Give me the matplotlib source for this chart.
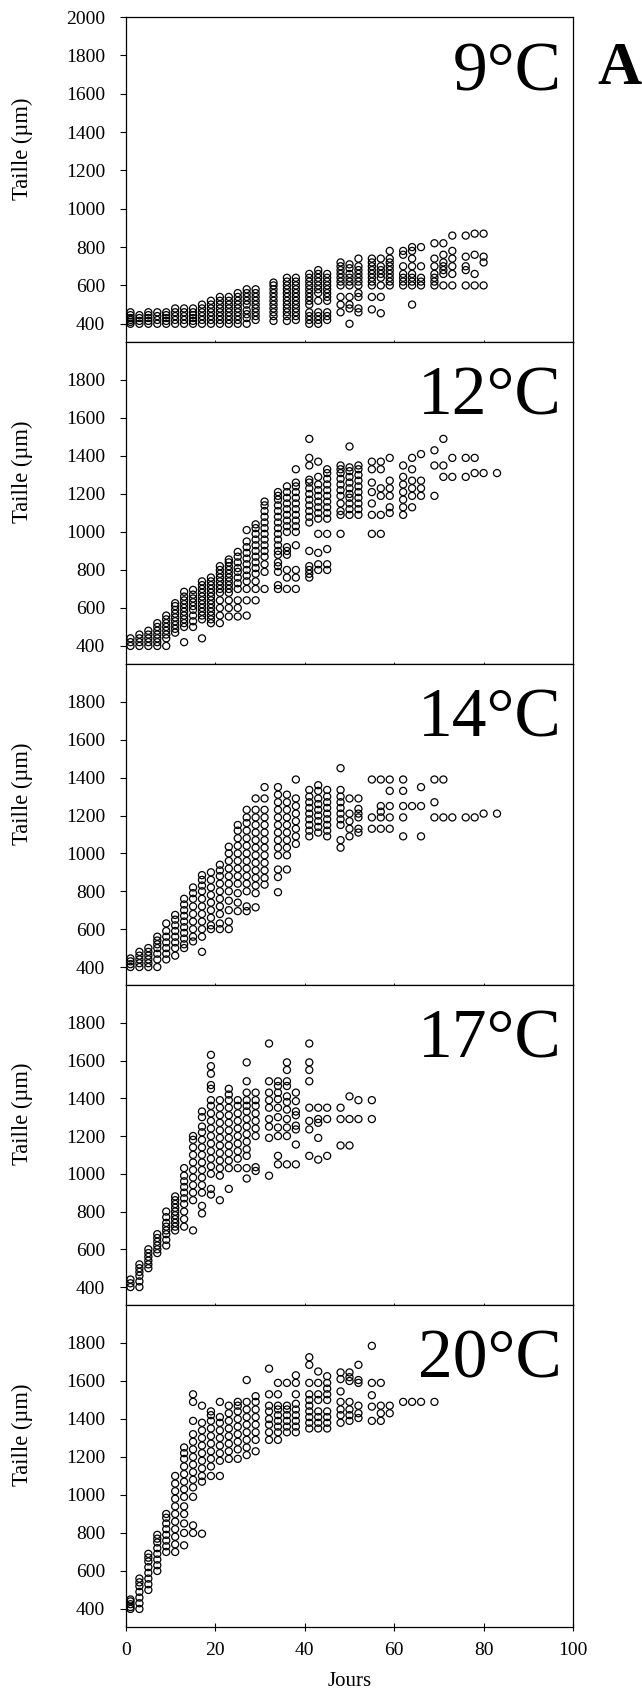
import matplotlib
matplotlib.use("Agg")
import matplotlib.pyplot as plt

# Taille des larves (µm) selon les jours, pour chaque temperature
days_9 = [1, 3, 5, 7, 9, 11, 13, 15, 17, 19, 21, 23, 25, 27, 29, 33, 36, 38, 41, 43, 45,
          48, 50, 52, 55, 57, 59, 62, 64, 66, 69, 71, 73, 76, 78, 80]
sizes_9 = [
    [400, 410, 420, 430, 445, 460],
    [400, 415, 430, 445],
    [400, 415, 430, 445, 460],
    [400, 420, 440, 460],
    [400, 415, 430, 445, 460],
    [400, 420, 440, 460, 480],
    [400, 420, 440, 460, 480],
    [400, 415, 430, 445, 460, 480],
    [400, 420, 440, 460, 480, 500],
    [400, 420, 440, 460, 480, 500, 520],
    [400, 420, 440, 460, 480, 500, 520, 540],
    [400, 420, 440, 460, 480, 500, 520, 540],
    [400, 420, 440, 460, 480, 500, 520, 540, 560],
    [400, 430, 450, 470, 500, 520, 540, 560, 580],
    [420, 440, 460, 480, 500, 520, 540, 560, 580],
    [415, 440, 460, 480, 500, 520, 540, 560, 580, 600, 615],
    [415, 440, 460, 480, 500, 520, 540, 560, 580, 600, 620, 640],
    [420, 440, 460, 480, 500, 520, 540, 560, 580, 600, 620, 640],
    [400, 420, 440, 460, 500, 520, 540, 560, 580, 600, 620, 640, 660],
    [400, 420, 440, 460, 520, 560, 580, 600, 620, 640, 660, 680],
    [420, 440, 460, 520, 540, 560, 580, 600, 620, 640, 660],
    [460, 500, 540, 600, 620, 640, 660, 680, 700, 720],
    [400, 480, 500, 540, 600, 620, 640, 660, 690, 710],
    [460, 480, 540, 560, 600, 620, 640, 660, 680, 700, 740],
    [475, 540, 600, 620, 640, 660, 680, 700, 720, 740],
    [455, 540, 600, 640, 660, 680, 700, 740],
    [600, 620, 640, 660, 680, 700, 720, 740, 780],
    [600, 620, 640, 660, 700, 760, 780],
    [500, 600, 620, 640, 660, 700, 740, 780, 800],
    [600, 620, 640, 700, 800],
    [600, 620, 640, 660, 700, 740, 820],
    [600, 660, 680, 700, 720, 760, 820],
    [600, 660, 700, 740, 780, 860],
    [600, 680, 700, 750, 860],
    [600, 660, 760, 870],
    [600, 720, 750, 870],
]

days_12 = [1, 3, 5, 7, 9, 11, 13, 15, 17, 19, 21, 23, 25, 27, 29, 31, 34, 36, 38, 41, 43, 45,
           48, 50, 52, 55, 57, 59, 62, 64, 66, 69, 71, 73, 76, 78, 80, 83]
sizes_12 = [
    [400, 420, 440],
    [400, 420, 440, 460],
    [400, 420, 440, 460, 480],
    [400, 420, 440, 460, 480, 500, 520],
    [400, 440, 460, 480, 500, 520, 540, 560],
    [470, 490, 510, 530, 550, 570, 590, 610, 625],
    [420, 500, 520, 540, 560, 580, 600, 620, 640, 660, 685],
    [500, 530, 560, 590, 610, 630, 650, 670, 695],
    [440, 540, 560, 580, 600, 620, 640, 660, 680, 700, 720, 740],
    [520, 540, 560, 580, 600, 620, 640, 660, 680, 700, 720, 740, 760],
    [520, 560, 600, 640, 680, 700, 720, 740, 760, 780, 800, 820],
    [555, 600, 640, 680, 700, 720, 740, 760, 780, 800, 820, 840, 855],
    [555, 600, 640, 700, 730, 760, 790, 810, 840, 870, 895],
    [560, 640, 700, 740, 770, 800, 830, 860, 890, 920, 950, 1010],
    [640, 700, 740, 780, 810, 840, 870, 900, 930, 960, 990, 1020, 1040],
    [700, 790, 830, 870, 900, 930, 960, 990, 1020, 1050, 1080, 1110, 1140, 1160],
    [700, 720, 790, 820, 840, 880, 900, 930, 960, 990, 1020, 1050, 1080, 1110, 1140, 1170, 1190, 1210],
    [700, 760, 800, 880, 900, 920, 1000, 1030, 1060, 1090, 1120, 1150, 1180, 1210, 1240],
    [700, 760, 800, 930, 1000, 1030, 1060, 1090, 1120, 1150, 1180, 1210, 1240, 1260, 1330],
    [760, 780, 800, 820, 900, 1050, 1080, 1110, 1140, 1170, 1200, 1230, 1260, 1275, 1350, 1390, 1490],
    [800, 830, 890, 990, 1070, 1100, 1130, 1160, 1190, 1220, 1250, 1290, 1370],
    [800, 830, 910, 990, 1070, 1100, 1130, 1160, 1190, 1220, 1250, 1280, 1310, 1330],
    [990, 1090, 1110, 1150, 1190, 1220, 1250, 1280, 1310, 1330, 1350],
    [1090, 1120, 1150, 1180, 1200, 1230, 1260, 1290, 1320, 1340, 1450],
    [1090, 1120, 1150, 1180, 1210, 1240, 1270, 1300, 1330, 1350],
    [990, 1090, 1150, 1210, 1260, 1330, 1370],
    [990, 1090, 1190, 1230, 1330, 1370],
    [1100, 1130, 1190, 1230, 1270, 1390],
    [1090, 1130, 1170, 1210, 1250, 1290, 1350],
    [1130, 1190, 1230, 1270, 1330, 1390],
    [1190, 1230, 1270, 1410],
    [1190, 1350, 1430],
    [1290, 1350, 1490],
    [1290, 1390],
    [1290, 1390],
    [1310, 1390],
    [1310],
    [1310],
]

days_14 = [1, 3, 5, 7, 9, 11, 13, 15, 17, 19, 21, 23, 25, 27, 29, 31, 34, 36, 38, 41, 43, 45,
           48, 50, 52, 55, 57, 59, 62, 64, 66, 69, 71, 73, 76, 78, 80, 83]
sizes_14 = [
    [400, 415, 430, 445],
    [400, 420, 440, 460, 480],
    [400, 420, 440, 460, 480, 500],
    [400, 440, 470, 500, 520, 540, 560],
    [440, 470, 500, 530, 560, 590, 630],
    [460, 500, 530, 560, 590, 620, 650, 675],
    [500, 520, 550, 580, 610, 640, 670, 700, 730, 760],
    [535, 560, 600, 640, 680, 720, 760, 790, 820],
    [480, 560, 600, 640, 680, 720, 760, 800, 830, 860, 885],
    [600, 620, 660, 700, 740, 780, 820, 860, 900],
    [600, 630, 680, 720, 760, 800, 840, 880, 910, 940],
    [600, 640, 700, 750, 800, 840, 880, 920, 960, 1000, 1035],
    [695, 740, 790, 840, 880, 920, 960, 1000, 1040, 1080, 1120, 1150],
    [695, 720, 800, 840, 880, 920, 960, 1000, 1040, 1080, 1120, 1160, 1190, 1230],
    [715, 790, 830, 870, 910, 950, 990, 1030, 1070, 1110, 1150, 1190, 1230, 1290],
    [835, 870, 910, 950, 990, 1030, 1070, 1110, 1150, 1190, 1230, 1290, 1350],
    [795, 875, 915, 990, 1030, 1070, 1110, 1150, 1190, 1230, 1270, 1310, 1350],
    [915, 990, 1030, 1070, 1110, 1150, 1190, 1230, 1270, 1310],
    [1050, 1090, 1130, 1170, 1210, 1250, 1290, 1390],
    [1090, 1120, 1150, 1180, 1210, 1240, 1270, 1300, 1335],
    [1110, 1140, 1170, 1200, 1230, 1260, 1290, 1330, 1360],
    [1090, 1120, 1150, 1180, 1210, 1240, 1270, 1300, 1335],
    [1030, 1070, 1150, 1180, 1210, 1240, 1270, 1300, 1335, 1450],
    [1090, 1130, 1170, 1210, 1290],
    [1110, 1130, 1190, 1210, 1235, 1290],
    [1130, 1190, 1390],
    [1130, 1190, 1220, 1250, 1390],
    [1130, 1190, 1250, 1330, 1390],
    [1090, 1190, 1250, 1330, 1390],
    [1250],
    [1090, 1250, 1350],
    [1190, 1270, 1390],
    [1190, 1390],
    [1190],
    [1190],
    [1190],
    [1210],
    [1210],
]

days_17 = [1, 3, 5, 7, 9, 11, 13, 15, 17, 19, 21, 23, 25, 27, 29, 32, 34, 36, 38, 41, 43, 45,
           48, 50, 52, 55]
sizes_17 = [
    [400, 420, 440],
    [400, 430, 460, 480, 500, 520],
    [500, 520, 540, 560, 580, 600],
    [580, 600, 620, 640, 660, 680],
    [620, 650, 680, 700, 720, 740, 770, 800],
    [700, 720, 740, 760, 780, 800, 820, 840, 860, 880],
    [720, 760, 800, 840, 870, 900, 930, 960, 990, 1030],
    [700, 860, 900, 940, 980, 1020, 1060, 1100, 1140, 1180, 1200],
    [790, 830, 900, 940, 980, 1020, 1060, 1100, 1140, 1180, 1220, 1250, 1300, 1330],
    [890, 920, 1000, 1040, 1080, 1120, 1160, 1200, 1240, 1280, 1320, 1360, 1390, 1450, 1470, 1530, 1570, 1630],
    [860, 990, 1030, 1070, 1110, 1150, 1190, 1230, 1270, 1310, 1350, 1390],
    [920, 1030, 1070, 1110, 1150, 1190, 1230, 1270, 1310, 1350, 1390, 1420, 1450],
    [1030, 1080, 1120, 1160, 1200, 1240, 1280, 1320, 1360, 1390],
    [975, 1030, 1095, 1130, 1170, 1210, 1250, 1290, 1330, 1360, 1390, 1430, 1490, 1590],
    [1015, 1035, 1200, 1240, 1280, 1320, 1360, 1390, 1430],
    [990, 1190, 1250, 1290, 1350, 1390, 1430, 1490, 1690],
    [1050, 1095, 1200, 1245, 1300, 1350, 1395, 1430, 1465, 1490],
    [1050, 1200, 1245, 1290, 1340, 1380, 1410, 1465, 1490, 1550, 1590],
    [1050, 1155, 1235, 1255, 1310, 1330, 1385, 1430],
    [1095, 1235, 1280, 1350, 1490, 1550, 1590, 1690],
    [1075, 1190, 1270, 1290, 1350],
    [1095, 1290, 1350],
    [1150, 1290, 1350],
    [1150, 1290, 1410],
    [1290, 1390],
    [1290, 1390],
]

days_20 = [1, 3, 5, 7, 9, 11, 13, 15, 17, 19, 21, 23, 25, 27, 29, 32, 34, 36, 38, 41, 43, 45,
           48, 50, 52, 55, 57, 59, 62, 64, 66, 69]
sizes_20 = [
    [400, 410, 425, 440, 450],
    [400, 430, 460, 490, 520, 540, 560],
    [500, 530, 560, 590, 620, 650, 670, 690],
    [600, 630, 660, 690, 720, 750, 770, 790],
    [700, 730, 760, 790, 820, 850, 880, 900],
    [700, 740, 780, 820, 860, 900, 940, 980, 1020, 1060, 1100],
    [735, 800, 850, 900, 940, 990, 1030, 1070, 1110, 1150, 1190, 1220, 1250],
    [800, 840, 990, 1040, 1080, 1120, 1160, 1200, 1240, 1280, 1320, 1390, 1490, 1530],
    [796, 1070, 1100, 1140, 1180, 1220, 1260, 1300, 1340, 1380, 1470],
    [1100, 1150, 1190, 1230, 1270, 1310, 1350, 1390, 1420, 1440],
    [1100, 1180, 1220, 1260, 1300, 1340, 1380, 1410, 1490],
    [1190, 1230, 1270, 1310, 1350, 1390, 1430, 1470],
    [1190, 1240, 1280, 1320, 1360, 1400, 1440, 1470, 1490],
    [1210, 1250, 1290, 1330, 1370, 1410, 1450, 1490, 1605],
    [1230, 1290, 1330, 1370, 1410, 1450, 1490, 1520],
    [1290, 1330, 1370, 1400, 1440, 1470, 1530, 1665],
    [1290, 1330, 1360, 1390, 1420, 1450, 1470, 1530, 1590],
    [1330, 1360, 1390, 1420, 1450, 1470, 1590],
    [1330, 1360, 1390, 1420, 1450, 1480, 1530, 1590, 1630],
    [1350, 1380, 1410, 1440, 1470, 1500, 1530, 1590, 1685, 1725],
    [1350, 1380, 1410, 1440, 1500, 1530, 1590, 1650],
    [1350, 1380, 1410, 1440, 1500, 1530, 1560, 1590, 1625],
    [1380, 1420, 1450, 1490, 1545, 1610, 1645],
    [1390, 1420, 1450, 1490, 1600, 1620, 1645],
    [1405, 1430, 1470, 1590, 1605, 1685],
    [1390, 1465, 1525, 1590, 1785],
    [1390, 1430, 1470, 1590],
    [1430, 1470],
    [1490],
    [1490],
    [1490],
    [1490],
]

temps = ["9°C", "12°C", "14°C", "17°C", "20°C"]
all_days = [days_9, days_12, days_14, days_17, days_20]
all_sizes = [sizes_9, sizes_12, sizes_14, sizes_17, sizes_20]

plt.rcParams['font.family'] = ['Liberation Serif', 'DejaVu Serif']

W, H = 642, 1692
fig = plt.figure(figsize=(W / 100, H / 100), dpi=100)

# bords des panneaux (pixels depuis le haut)
edges = [17, 342, 664, 985, 1305, 1627]
left, right = 126, 573

for i in range(5):
    top, bot = edges[i], edges[i + 1]
    ax = fig.add_axes([left / W, 1 - bot / H, (right - left) / W, (bot - top) / H])

    xs = [d for d, col in zip(all_days[i], all_sizes[i]) for v in col]
    ys = [v for col in all_sizes[i] for v in col]
    ax.scatter(xs, ys, s=26, facecolors='none', edgecolors='black', linewidths=0.9, zorder=3)

    ax.set_xlim(0, 100)
    ax.set_ylim(305, 2000)
    ymax = 2000 if i == 0 else 1800
    ax.set_yticks(range(400, ymax + 1, 200))
    ax.set_xticks(range(0, 101, 20))
    ax.tick_params(axis='y', direction='out', length=4, width=0.8, labelsize=14, pad=11)

    if i == 4:
        ax.tick_params(axis='x', direction='inout', length=6, width=0.8, labelsize=14, pad=8)
    else:
        ax.tick_params(axis='x', direction='inout', length=3, width=0.6, labelbottom=False)

    for sp in ax.spines.values():
        sp.set_linewidth(0.9)

    ax.text(0.975, 0.775, temps[i], transform=ax.transAxes, ha='right', va='baseline',
            fontsize=50)

    yc = (top + bot) / 2 - 31
    fig.text(22 / W, 1 - yc / H, "Taille (µm)", rotation=90, ha='center', va='center',
             fontsize=16.3)

fig.text((left + right) / 2 / W, 1 - 1686 / H, "Jours", ha='center', va='baseline', fontsize=15)
fig.text(619 / W, 1 - 84 / H, "A", ha='center', va='baseline', fontsize=44, fontweight='bold')

fig.savefig("out.png", dpi=100)
